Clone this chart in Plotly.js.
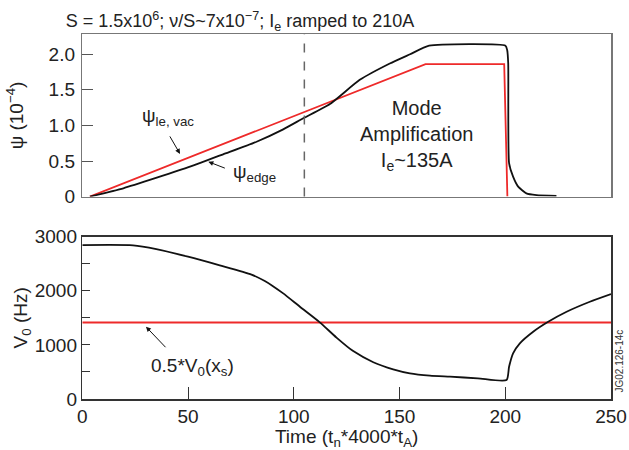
<!DOCTYPE html>
<html>
<head>
<meta charset="utf-8">
<script src="https://cdn.plot.ly/plotly-3.0.1.min.js"></script>
<style>html,body{margin:0;padding:0;background:#fff;}#chart{width:629px;height:450px;}</style>
</head>
<body>
<div id="chart"></div>
<script>
// ---- data ----
const psiEdgeT = [3.6, 19.4, 35.2, 50.9, 66.6, 82.4, 95, 104.5, 117.1, 131.2, 145.4, 155, 164, 200.1, 200.9, 201.4, 201.8, 203.7, 206.1, 210, 214.8, 224.2];
const psiEdgeV = [0, 0.117, 0.266, 0.42, 0.594, 0.771, 0.945, 1.10, 1.30, 1.64, 1.87, 2.0, 2.12, 2.12, 2.06, 1.87, 0.47, 0.28, 0.14, 0.046, 0.022, 0.01];
const psiVacT = [3.6, 162.3, 199.5, 201];
const psiVacV = [0, 1.86, 1.86, 0];
const v0T = [0, 24, 35, 50, 65, 80, 86.3, 90, 95, 102.9, 112.3, 120.2, 128.1, 137.6, 147, 154.9, 164.4, 173.8, 187, 200.6, 201.8, 203.7, 206.9, 213.2, 220.3, 229, 240, 250];
const v0V = [2845, 2840, 2770, 2630, 2470, 2300, 2180, 2090, 1952, 1705, 1417, 1135, 885, 680, 548, 474, 431, 412, 383, 351, 597, 844, 1029, 1244, 1428, 1613, 1798, 1940];
const halfV0T = [0, 250];
const halfV0V = [1415, 1415];
const dashX = 105;
const psiTicks = [0, 0.5, 1.0, 1.5, 2.0];
const psiTickText = ['0', '0.5', '1.0', '1.5', '2.0'];
const vTicks = [0, 500, 1000, 1500, 2000, 2500, 3000];
const vTickText = ['0', '', '1000', '', '2000', '', '3000'];
const tTicks = [0, 50, 100, 150, 200, 250];

const FONT = 'Liberation Sans, Arial, Helvetica, sans-serif';
const RED = '#ee2a2a';

const traces = [
  {x: psiVacT, y: psiVacV, xaxis: 'x', yaxis: 'y', mode: 'lines', line: {color: RED, width: 1.8}, name: 'psi_le,vac', showlegend: false},
  {x: psiEdgeT, y: psiEdgeV, xaxis: 'x', yaxis: 'y', mode: 'lines', line: {color: '#111', width: 1.8, shape: 'spline', smoothing: 0.5}, name: 'psi_edge', showlegend: false},
  {x: halfV0T, y: halfV0V, xaxis: 'x2', yaxis: 'y2', mode: 'lines', line: {color: RED, width: 2}, name: '0.5*V0(xs)', showlegend: false},
  {x: v0T, y: v0V, xaxis: 'x2', yaxis: 'y2', mode: 'lines', line: {color: '#111', width: 1.8, shape: 'spline', smoothing: 0.6}, name: 'V0', showlegend: false}
];

const xd = [82.3/629, 611/629];
const layout = {
  width: 629, height: 450,
  margin: {l: 0, r: 0, t: 0, b: 0},
  paper_bgcolor: '#fff', plot_bgcolor: '#fff',
  font: {family: FONT, size: 19, color: '#222'},
  showlegend: false,
  title: {text: 'S = 1.5x10<sup>6</sup>; ν/S~7x10<sup>−7</sup>; I<sub>e</sub> ramped to 210A', x: 240/629, xanchor: 'center', y: 1 - 21/450, yanchor: 'middle', font: {family: FONT, size: 18, color: '#222'}},
  xaxis: {domain: xd, range: [0, 250], showticklabels: false, ticks: '', showgrid: false, zeroline: false, showline: true, mirror: true, linecolor: '#777', linewidth: 1.5, anchor: 'y'},
  yaxis: {domain: [1 - 196.6/450, 1 - 34.3/450], range: [0, 2.28], tickvals: psiTicks, ticktext: psiTickText, ticks: 'inside', ticklen: 11, tickwidth: 1, tickcolor: '#555', showgrid: false, zeroline: false, showline: true, mirror: true, linecolor: '#777', linewidth: 1.5, anchor: 'x', ticklabelstandoff: 2,
    title: {text: 'ψ (10<sup>−4</sup>)', standoff: 20, font: {size: 19}}},
  xaxis2: {domain: xd, range: [0, 250], tickvals: tTicks, ticks: 'inside', ticklen: 12, tickwidth: 1, tickcolor: '#333', showgrid: false, zeroline: false, showline: true, mirror: true, linecolor: '#333', linewidth: 1.5, anchor: 'y2',
    title: {text: 'Time (t<sub>n</sub>*4000*t<sub>A</sub>)', standoff: 0, font: {size: 19}}},
  yaxis2: {domain: [1 - 399/450, 1 - 236.7/450], range: [0, 3000], tickvals: vTicks, ticktext: vTickText, ticks: 'inside', ticklen: 8, tickwidth: 1, tickcolor: '#333', showgrid: false, zeroline: false, showline: true, mirror: true, linecolor: '#333', linewidth: 1.5, anchor: 'x2', ticklabelstandoff: 0,
    title: {text: 'V<sub>0</sub> (Hz)', standoff: 2, font: {size: 19}}},
  shapes: [
    {type: 'line', xref: 'x', yref: 'y domain', x0: dashX, x1: dashX, y0: 0, y1: 1, line: {color: '#666', width: 1.5, dash: 'dash'}}
  ],
  annotations: [
    {xref: 'x', yref: 'y', x: 46.2, y: 0.60, ax: -11, ay: -19, text: '', showarrow: true, arrowhead: 2, arrowsize: 1, arrowwidth: 1, arrowcolor: '#111'},
    {xref: 'x', yref: 'y', x: 40.5, y: 1.12, text: 'ψ<sub>le, vac</sub>', showarrow: false, xanchor: 'center', yanchor: 'middle', font: {size: 19}},
    {xref: 'x', yref: 'y', x: 59.6, y: 0.49, ax: 18, ay: 7, text: '', showarrow: true, arrowhead: 2, arrowsize: 1, arrowwidth: 1, arrowcolor: '#111'},
    {xref: 'x', yref: 'y', x: 81.6, y: 0.33, text: 'ψ<sub>edge</sub>', showarrow: false, xanchor: 'center', yanchor: 'middle', font: {size: 19}},
    {xref: 'x', yref: 'y', x: 158, y: 0.86, text: 'Mode<br>Amplification<br>I<sub>e</sub>~135A', showarrow: false, xanchor: 'center', yanchor: 'middle', align: 'center', font: {size: 20}},
    {xref: 'x2', yref: 'y2', x: 30.1, y: 1336, ax: 21, ay: 22, text: '', showarrow: true, arrowhead: 2, arrowsize: 1, arrowwidth: 1, arrowcolor: '#111'},
    {xref: 'x2', yref: 'y2', x: 52.3, y: 591, text: '0.5*V<sub>0</sub>(x<sub>s</sub>)', showarrow: false, xanchor: 'center', yanchor: 'middle', font: {size: 19}},
    {xref: 'paper', yref: 'paper', x: 619/629, y: 1 - 361.5/450, text: 'JG02.126-14c', showarrow: false, textangle: -90, xanchor: 'center', yanchor: 'middle', font: {size: 10, color: '#333'}}
  ]
};

Plotly.newPlot('chart', traces, layout, {displayModeBar: false, staticPlot: true});
</script>
</body>
</html>
